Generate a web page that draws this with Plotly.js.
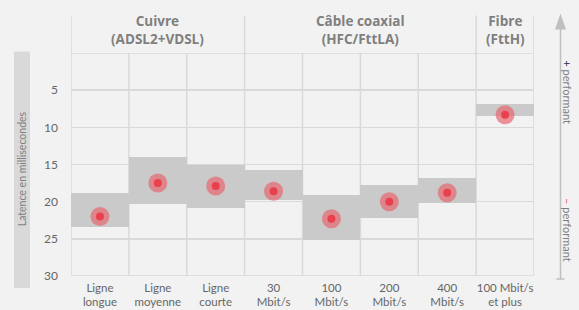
<!DOCTYPE html>
<html><head><meta charset="utf-8">
<script src="https://cdn.plot.ly/plotly-3.0.1.min.js"></script>
<style>html,body{margin:0;padding:0;background:#f2f2f2;}#chart{width:579px;height:310px;}</style>
</head><body><div id="chart"></div>
<script>
// ---- data ----
var categories = ["Ligne<br>longue","Ligne<br>moyenne","Ligne<br>courte","30<br>Mbit/s","100<br>Mbit/s","200<br>Mbit/s","400<br>Mbit/s","100 Mbit/s<br>et plus"];
var rangeLow  = [18.8, 14.0, 15.0, 15.8, 19.1, 17.8, 16.8, 6.9];
var rangeHigh = [23.4, 20.3, 20.8, 19.8, 25.1, 22.2, 20.2, 8.5];
var medianVal = [22.0, 17.5, 17.9, 18.6, 22.3, 20.0, 18.8, 8.3];
var groupLabels = ["Cuivre<br>(ADSL2+VDSL)", "Câble coaxial<br>(HFC/FttLA)", "Fibre<br>(FttH)"];
var groupStart = [0, 3, 7];
var groupEnd   = [2, 6, 7];
var yTicks = [5, 10, 15, 20, 25, 30];

// ---- geometry ----
var L = 71, R = 45, T = 52.5, B = 34, W = 579 - L - R, H = 310 - T - B;
function px(xp){ return (xp - L) / W; }
function py(yp){ return (T + H - yp) / H; }
var idx = categories.map(function(_, i){ return i; });
var FONT = "Lato, 'Open Sans', sans-serif";
var grid = "#d9d9d9";

var traces = [
  { type: "bar", x: idx, base: rangeLow, y: rangeLow.map(function(v,i){ return rangeHigh[i]-v; }),
    width: 1, marker: { color: "#c9cac9", line: { width: 0 } }, hoverinfo: "skip" },
  { type: "scatter", mode: "markers", x: idx, y: medianVal,
    marker: { size: 19, color: "rgba(230,104,112,0.7)", line: { width: 0 } }, hoverinfo: "skip" },
  { type: "scatter", mode: "markers", x: idx, y: medianVal,
    marker: { size: 8, color: "#e8414d", line: { width: 0 } }, hoverinfo: "skip" }
];

var shapes = [];
for (var i = 0; i <= categories.length; i++) {
  shapes.push({ type: "line", layer: "below", xref: "x", yref: "paper", x0: i - 0.5, x1: i - 0.5, y0: 0, y1: 1,
    line: { color: grid, width: 1.5 } });
}
var seps = [groupStart[0] - 0.5].concat(groupEnd.map(function(e){ return e + 0.5; }));
seps.forEach(function(s){
  shapes.push({ type: "line", layer: "below", xref: "x", yref: "paper", x0: s, x1: s, y0: 1, y1: py(15),
    line: { color: grid, width: 1.5 } });
});
[0, 30].forEach(function(v){
  shapes.push({ type: "line", layer: "below", xref: "paper", yref: "y", x0: 0, x1: 1, y0: v, y1: v,
    line: { color: grid, width: 1.5 } });
});
shapes.push({ type: "rect", layer: "below", xref: "paper", yref: "paper", x0: px(14), x1: px(30), y0: py(288), y1: py(51),
  fillcolor: "#d9d9d9", line: { width: 0 } });
shapes.push({ type: "line", xref: "paper", yref: "paper", x0: px(560.5), x1: px(560.5), y0: py(279), y1: py(27),
  line: { color: "#bfbfbf", width: 1.5 } });
shapes.push({ type: "line", xref: "paper", yref: "paper", x0: px(556.5), x1: px(564.5), y0: py(279), y1: py(279),
  line: { color: "#bfbfbf", width: 1.5 } });
shapes.push({ type: "path", xref: "paper", yref: "paper",
  path: "M " + px(555) + " " + py(29) + " L " + px(566) + " " + py(29) + " L " + px(560.5) + " " + py(13) + " Z",
  fillcolor: "#bfbfbf", line: { width: 0 } });

var annotations = groupLabels.map(function(g, k){
  return { text: g, xref: "x", yref: "paper", x: (groupStart[k] + groupEnd[k]) / 2, y: py(29),
    showarrow: false, font: { family: "'Open Sans', sans-serif", size: 13.5, color: "#7f7f7f", weight: "bold" },
    xanchor: "center", yanchor: "middle" };
});
annotations.push({ text: "Latence en millisecondes", xref: "paper", yref: "paper", x: px(22), y: py(169), textangle: -90,
  xanchor: "center", yanchor: "middle",
  showarrow: false, font: { family: FONT, size: 10.5, color: "#7f7f7f" } });
annotations.push({ text: "<span style='color:#1f2d5a'>+</span> performant", xref: "paper", yref: "paper", x: px(568), y: py(92), textangle: 90,
  xanchor: "center", yanchor: "middle",
  showarrow: false, font: { family: FONT, size: 11, color: "#7f7f7f" } });
annotations.push({ text: "<span style='color:#e05c5c'>–</span> performant", xref: "paper", yref: "paper", x: px(568), y: py(230), textangle: 90,
  xanchor: "center", yanchor: "middle",
  showarrow: false, font: { family: FONT, size: 11, color: "#7f7f7f" } });

var layout = {
  width: 579, height: 310,
  margin: { l: L, r: R, t: T, b: B, pad: 0 },
  paper_bgcolor: "#f2f2f2", plot_bgcolor: "#f2f2f2",
  showlegend: false, bargap: 0,
  font: { family: FONT, color: "#595959" },
  xaxis: { range: [-0.5, categories.length - 0.5], tickvals: idx, ticktext: categories, showgrid: false, zeroline: false,
    ticks: "", ticklabelstandoff: 3, tickfont: { family: FONT, size: 11.5, color: "#666666" }, fixedrange: true },
  yaxis: { range: [30, 0], tickvals: yTicks, showgrid: true, gridcolor: grid, gridwidth: 1.5, zeroline: false,
    ticks: "", ticklabelstandoff: 12, tickfont: { family: FONT, size: 12, color: "#666666" }, fixedrange: true },
  shapes: shapes, annotations: annotations
};
Plotly.newPlot("chart", traces, layout, { displayModeBar: false, staticPlot: true });
</script></body></html>
